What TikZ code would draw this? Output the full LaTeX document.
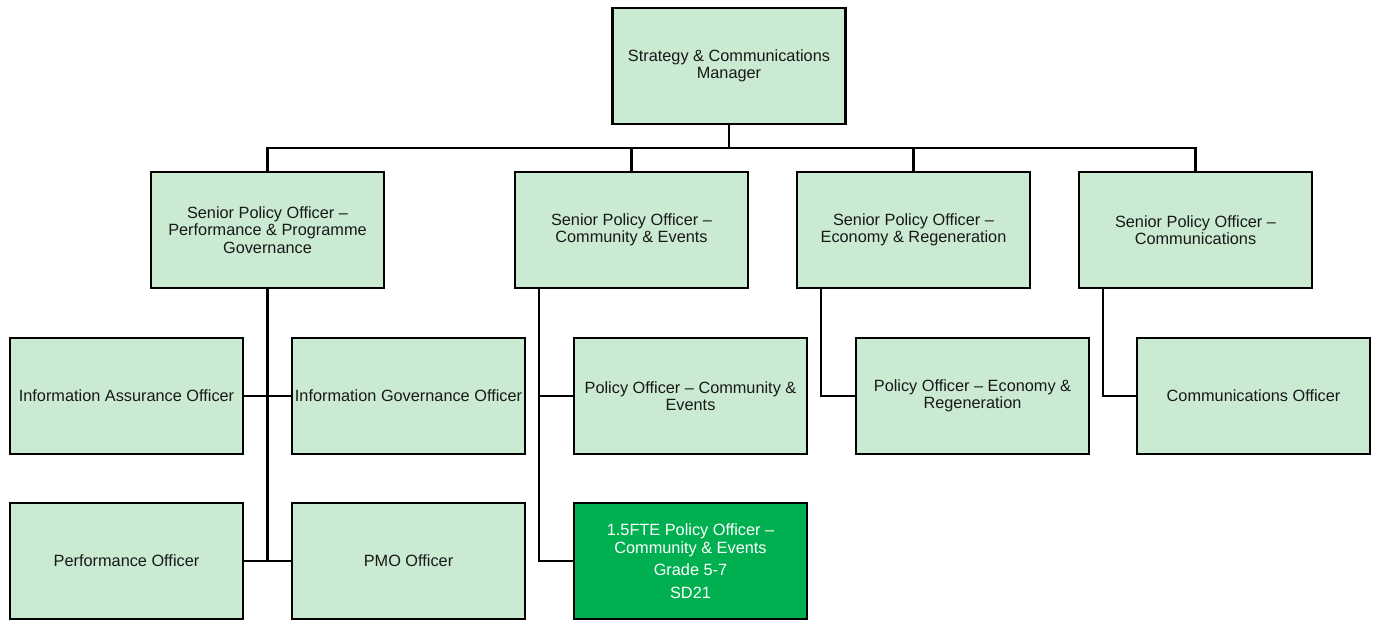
\documentclass[tikz,border=0pt]{standalone}
\usepackage{fontspec}
\setmainfont{Liberation Sans}
\begin{document}
\begin{tikzpicture}[x=1pt,y=-1pt,
  role/.style={draw=black, line width=2.6pt, fill=rolefill,
    minimum width=233pt, minimum height=116pt, inner sep=1pt,
    align=center, font=\fontsize{16.3}{17.5}\selectfont, text=black!90},
  vacant/.style={role, fill=vacantgreen, text=white},
  link/.style={line width=2.6pt}]
\definecolor{rolefill}{RGB}{202,234,210}
\definecolor{vacantgreen}{RGB}{0,176,80}
\useasboundingbox (0,0) rectangle (1375,619);

% Head of team
\node[role] (mgr) at (729,66) {Strategy \& Communications\\Manager};

% Senior policy officers
\node[role] (spPerf) at (267.5,230) {Senior Policy Officer –\\Performance \& Programme\\Governance};
\node[role] (spComm) at (631.5,230) {Senior Policy Officer –\\Community \& Events};
\node[role] (spEcon) at (913.5,230) {Senior Policy Officer –\\Economy \& Regeneration};
\node[role] (spCom2) at (1195.5,230) {Senior Policy Officer –\\Communications};

% Officers
\node[role] (infoA) at (126.5,396) {Information Assurance Officer};
\node[role] (infoG) at (408.5,396) {Information Governance Officer};
\node[role] (polComm) at (690.5,396) {Policy Officer – Community \&\\Events};
\node[role] (polEcon) at (972.5,396) {Policy Officer – Economy \&\\Regeneration};
\node[role] (commOff) at (1253.5,396) {Communications Officer};
\node[role] (perf) at (126.5,561) {Performance Officer};
\node[role] (pmo) at (408.5,561) {PMO Officer};
\node[vacant] (fte) at (690.5,561) {1.5FTE Policy Officer –\\Community \& Events\\[5pt]Grade 5-7\\[5pt]SD21};

% Manager to senior officers
\coordinate (bus) at (729,148);
\draw[link] (mgr.south) -- (bus);
\draw[link] (spPerf.north) |- (bus) -| (spCom2.north);
\draw[link] (spComm.north) -- (spComm.north |- bus);
\draw[link] (spEcon.north) -- (spEcon.north |- bus);

% Performance & Programme Governance team
\coordinate (perfTrunk) at (267.5,561);
\draw[link] (spPerf.south) -- (perfTrunk);
\draw[link] (infoA.east) -- (infoG.west);
\draw[link] (perf.east) -- (pmo.west);

% Community & Events team
\coordinate (commTrunk) at (539,288);
\draw[link] (commTrunk) |- (fte.west);
\draw[link] (polComm.west) -- (polComm.west -| commTrunk);

% Economy & Regeneration team
\coordinate (econTrunk) at (821,288);
\draw[link] (econTrunk) |- (polEcon.west);

% Communications team
\coordinate (com2Trunk) at (1103,288);
\draw[link] (com2Trunk) |- (commOff.west);
\end{tikzpicture}
\end{document}
